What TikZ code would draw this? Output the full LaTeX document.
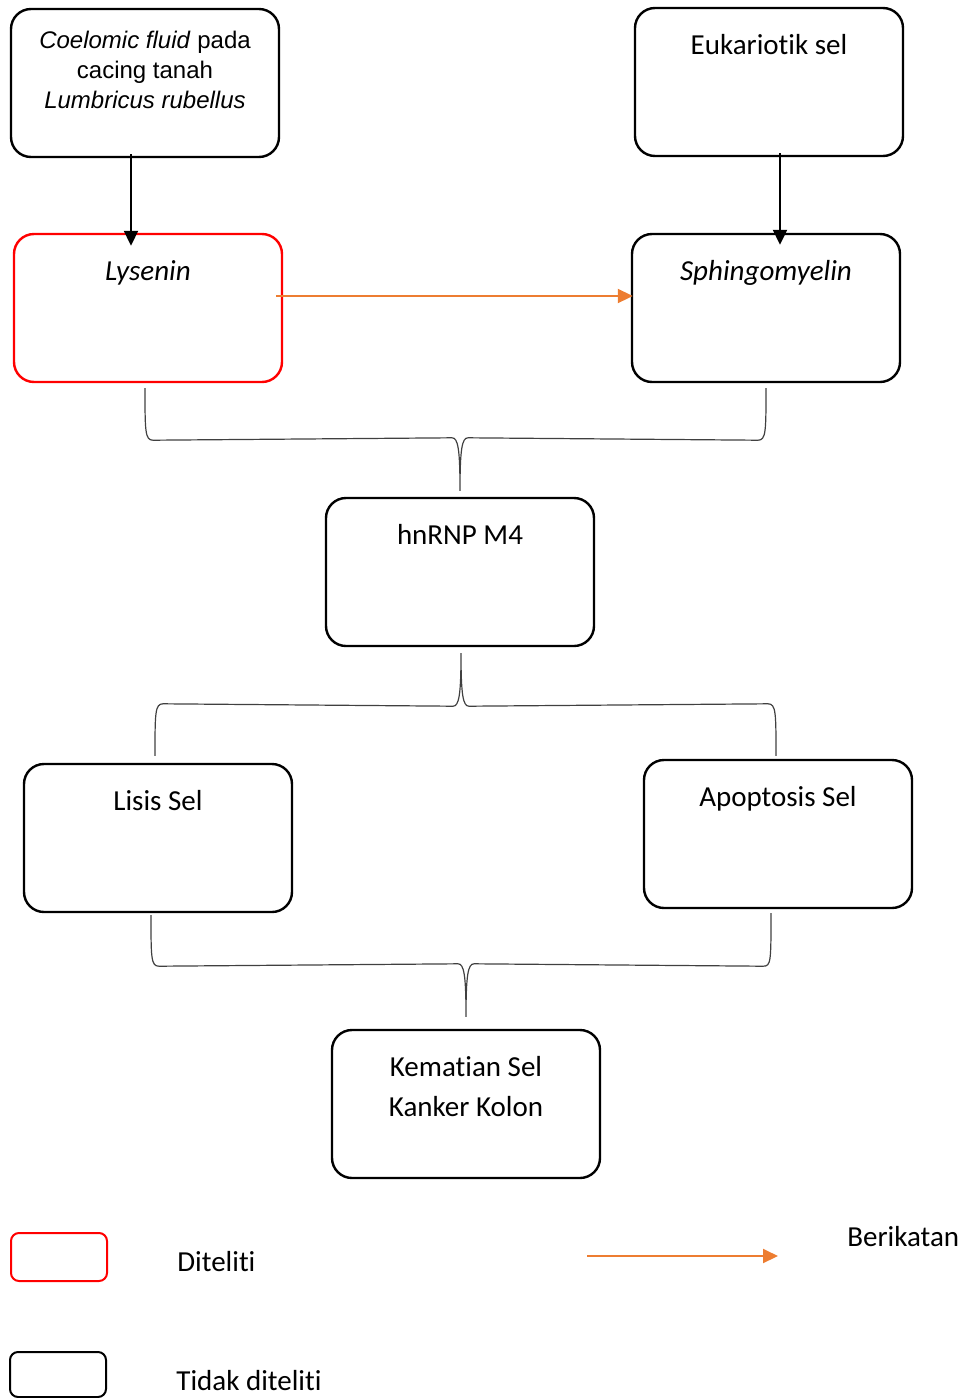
\documentclass[tikz,border=0pt]{standalone}
\usepackage{fontspec}
\setmainfont{Carlito}[Ligatures=NoCommon]
\newfontfamily\arialfont{Liberation Sans}
\usetikzlibrary{calc,arrows.meta,positioning}
\definecolor{orangeline}{RGB}{237,125,49}

\tikzset{
  box/.style={draw,line width=1.2pt,rounded corners=10pt,minimum width=134pt,minimum height=74pt,inner sep=0pt},
  redbox/.style={box,draw=red},
  boxtext/.style={anchor=north,inner sep=0pt,align=center},
  legbox/.style={draw,line width=1pt,rounded corners=4pt,minimum width=48pt,minimum height=24pt},
  arr/.style={-{Triangle[length=7.5pt,width=7pt]},line width=1pt},
  oarr/.style={-{Triangle[length=7.5pt,width=7pt]},line width=1pt,draw=orangeline,fill=orangeline},
  brc/.style={line width=0.6pt,draw=black!75}
}

\begin{document}
\begin{tikzpicture}[x=0.5pt,y=-0.5pt,font=\fontsize{14.5}{20}\selectfont]
\useasboundingbox (0,0) rectangle (968,1398);

% boxes
\node[box] (coelom) at (145,83) {};
\node[box] (eukar) at (769,82) {};
\node[redbox] (lysenin) at (148,308) {};
\node[box] (sphingo) at (766,308) {};
\node[box] (hnrnp) at (460,572) {};
\node[box] (lisis) at (158,838) {};
\node[box] (apopt) at (778,834) {};
\node[box] (kematian) at (466,1104) {};

% texts
\node[boxtext,font=\arialfont\fontsize{12}{15}\selectfont] (coelomtxt) at ([yshift=-9.5pt]coelom.north)
  {\strut\textit{Coelomic fluid} pada\\cacing tanah\\\textit{Lumbricus rubellus}};
\node[boxtext] (eukartxt) at ([yshift=-9.5pt]eukar.north) {\strut Eukariotik sel};
\node[boxtext] (lysenintxt) at ([yshift=-9.5pt]lysenin.north) {\strut\textit{Lysenin}};
\node[boxtext] (sphingotxt) at ([yshift=-9.5pt]sphingo.north) {\strut\textit{Sphingomyelin}};
\node[boxtext] (hnrnptxt) at ([yshift=-9.5pt]hnrnp.north) {\strut hnRNP M4};
\node[boxtext] (lisistxt) at ([yshift=-9.5pt]lisis.north) {\strut Lisis Sel};
\node[boxtext] (apopttxt) at ([yshift=-9.5pt]apopt.north) {\strut Apoptosis Sel};
\node[boxtext] (kematiantxt) at ([yshift=-9.5pt]kematian.north) {\strut Kematian Sel\\Kanker Kolon};

% arrows
\draw[arr] ($(coelom.south)+(-14,-4)$) -- ($(lysenin.north)+(-17,13)$);
\draw[arr] ($(eukar.south)+(11,-4)$) -- ($(sphingo.north)+(14,12)$);
\draw[oarr] ($(lysenin.east)+(-7,-12)$) -- ($(sphingo.west)+(2,-12)$);

% braces
\draw[brc] ($(lysenin.south)+(-3,5)$) .. controls +(0,43) and +(-8,0) .. ++(8,52)
  -- ($(hnrnp.north)+(-8,-59)$) .. controls +(6,0) and +(0,-42) .. ($(hnrnp.north)+(0,-6)$)
  .. controls +(0,-42) and +(-6,0) .. ($(hnrnp.north)+(8,-59)$)
  -- ($(sphingo.south)+(-8,57)$) .. controls +(8,0) and +(0,43) .. ($(sphingo.south)+(0,5)$);
\draw[brc] ($(lisis.north)+(-3,-7)$) .. controls +(0,-43) and +(-8,0) .. ++(8,-52)
  -- ($(hnrnp.south)+(-7,59)$) .. controls +(6,0) and +(0,42) .. ($(hnrnp.south)+(1,6)$)
  .. controls +(0,42) and +(-6,0) .. ($(hnrnp.south)+(9,59)$)
  -- ($(apopt.north)+(-10,-55)$) .. controls +(8,0) and +(0,-43) .. ($(apopt.north)+(-2,-3)$);
\draw[brc] ($(lisis.south)+(-7,2)$) .. controls +(0,43) and +(-8,0) .. ++(8,51)
  -- ($(kematian.north)+(-8,-65)$) .. controls +(6,0) and +(0,-42) .. ($(kematian.north)+(0,-12)$)
  .. controls +(0,-42) and +(-6,0) .. ($(kematian.north)+(8,-65)$)
  -- ($(apopt.south)+(-15,57)$) .. controls +(8,0) and +(0,49) .. ($(apopt.south)+(-7,4)$);

% legend
\node[legbox,draw=red] (legred) at (59,1257) {};
\node[legbox,minimum height=22.5pt] (legblack) at (58,1374.5) {};
\node[anchor=west,inner sep=0pt] (legredtxt) at (177,1262) {Diteliti};
\node[anchor=west,inner sep=0pt] (legblacktxt) at (176,1381) {Tidak diteliti};
\coordinate (legarra) at (587,1256);
\coordinate (legarrb) at (778,1256);
\draw[oarr] (legarra) -- (legarrb);
\node[anchor=west,inner sep=0pt] (legarrtxt) at (847,1237) {Berikatan};
\end{tikzpicture}
\end{document}
